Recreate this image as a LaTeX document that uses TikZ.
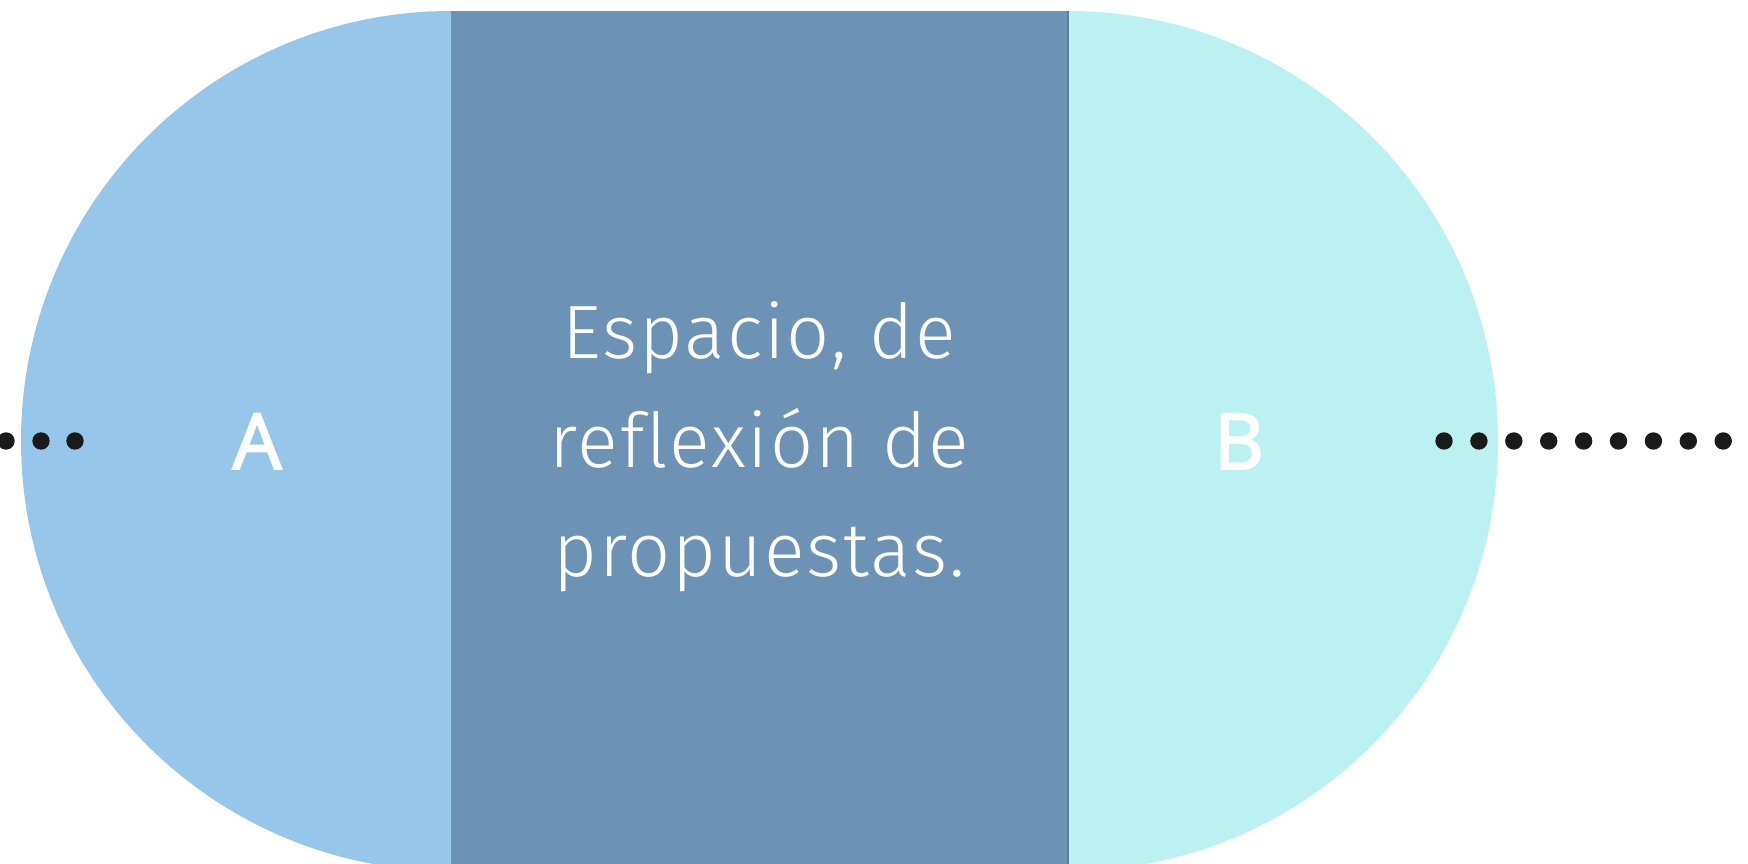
\documentclass[tikz,border=0pt]{standalone}
\usepackage{fontspec}
\setmainfont{Fira Sans}[UprightFont=* Light, LetterSpace=2.5, Ligatures={NoCommon}]
\newfontfamily\letterfont{Open Sans}[FakeBold=2.5]
\definecolor{sideA}{RGB}{150,199,234}
\definecolor{middle}{RGB}{108,147,182}
\definecolor{sideB}{RGB}{187,242,241}
\definecolor{dotc}{RGB}{26,26,26}

\begin{document}
\begin{tikzpicture}[x=0.01cm, y=0.01cm]
\useasboundingbox (0,0) rectangle (1748,864);
\clip (0,0) rectangle (1748,864);
\fill [sideA] (451,853) arc [start angle=90, end angle=270, radius=430] -- cycle;
\fill [sideB] (1068,853) arc [start angle=90, end angle=-90, radius=430] -- cycle;
\fill [middle] (451,-10) rectangle (1068,853);
\draw [color=middle!85!black, line width=0.5pt] (1068,-10) -- (1068,853);
\foreach \x in {6,41,75} \fill [dotc] (\x,423) circle [radius=8.7];
\foreach \n in {0,...,8} \fill [dotc] (1444+34.9*\n,423) circle [radius=8.7];
\node (A) at (257,395) [anchor=base, text=white, font=\letterfont\fontsize{22}{22}\selectfont] {A};
\node (B) at (1239,395) [anchor=base, text=white, font=\letterfont\fontsize{22}{22}\selectfont] {B};
\node (mid) at (759.5,287) [anchor=base, align=center, text=white, font=\fontsize{21.5}{31}\selectfont] {Espacio, de\\reflexión de\\propuestas.};
\end{tikzpicture}
\end{document}
